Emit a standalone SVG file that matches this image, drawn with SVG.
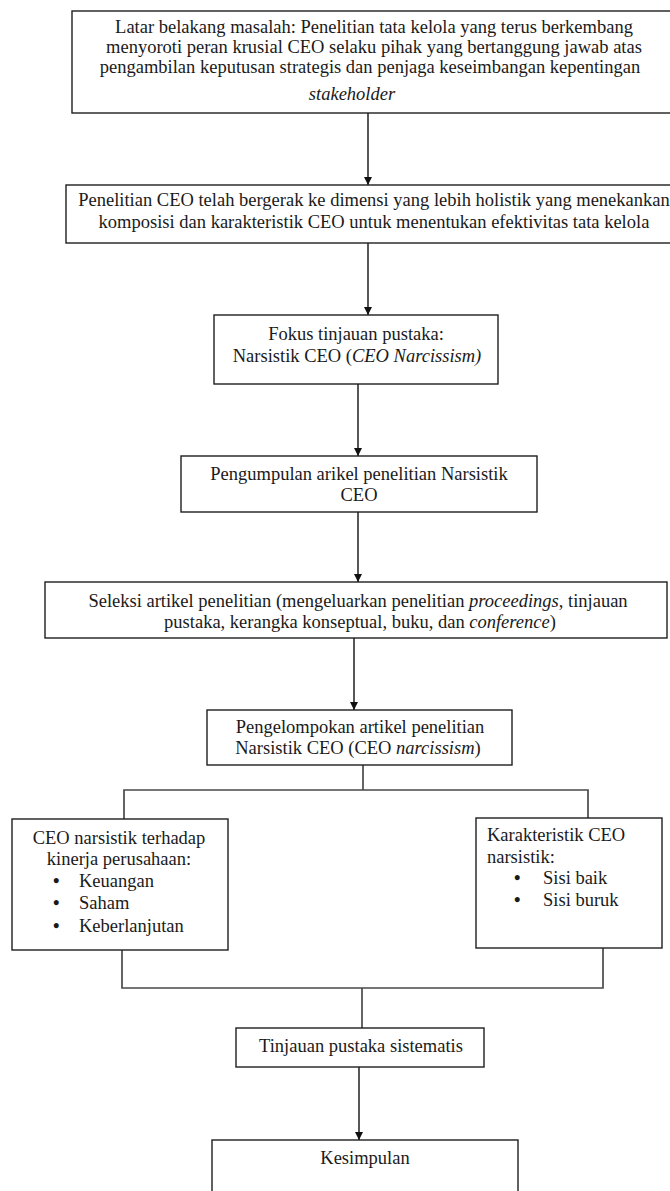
<svg xmlns="http://www.w3.org/2000/svg" width="670" height="1191" viewBox="0 0 670 1191">
<style>
.box{fill:#fff;stroke:#1f1f1f;stroke-width:1.4}
.t{font-family:"Liberation Serif","Times New Roman",serif;font-size:18.5px;fill:#1a1a1a}
.b{font-family:"Liberation Serif","Times New Roman",serif;font-size:18.5px;font-weight:bold;fill:#1a1a1a}
.c{text-anchor:middle}
.i{font-style:italic}
.arr{stroke:#111;stroke-width:1.4;fill:none;marker-end:url(#ah)}
.tree{stroke:#4a4a4a;stroke-width:1.7;fill:none}
</style>
<defs>
<marker id="ah" markerUnits="userSpaceOnUse" markerWidth="8" markerHeight="9" refX="8" refY="4" orient="auto">
<path d="M0,0 L8,4 L0,8 z" fill="#111"/>
</marker>
</defs>
<rect width="670" height="1191" fill="#fff"/>
<g id="connectors">
<line class="arr" x1="368" y1="113" x2="368" y2="185"/>
<line class="arr" x1="368" y1="243" x2="368" y2="315"/>
<line class="arr" x1="358" y1="384" x2="358" y2="456"/>
<line class="arr" x1="358" y1="512" x2="358" y2="582"/>
<line class="arr" x1="354" y1="638" x2="354" y2="710"/>
<polyline class="tree" points="363,765 363,790"/>
<polyline class="tree" points="124,819 124,790 588,790 588,818"/>
<polyline class="tree" points="122,950 122,988 603,988 603,948"/>
<polyline class="tree" points="362,988 362,1028"/>
<line class="arr" x1="359" y1="1067" x2="359" y2="1140"/>
</g>
<g id="n1">
<rect class="box" x="72" y="11" width="610" height="102"/>
<text class="t c" x="374" y="33">Latar belakang masalah: Penelitian tata kelola yang terus berkembang</text>
<text class="t c" x="374" y="53">menyoroti peran krusial CEO selaku pihak yang bertanggung jawab atas</text>
<text class="t c" x="370" y="73">pengambilan keputusan strategis dan penjaga keseimbangan kepentingan</text>
<text class="t c i" x="352" y="100">stakeholder</text>
</g>
<g id="n2">
<rect class="box" x="66" y="185" width="620" height="58"/>
<text class="t c" x="374" y="206">Penelitian CEO telah bergerak ke dimensi yang lebih holistik yang menekankan</text>
<text class="t c" x="374" y="228">komposisi dan karakteristik CEO untuk menentukan efektivitas tata kelola</text>
</g>
<g id="n3">
<rect class="box" x="214" y="315" width="284" height="69"/>
<text class="t c" x="356" y="340">Fokus tinjauan pustaka:</text>
<text class="t c" x="357" y="362">Narsistik CEO (<tspan class="i">CEO Narcissism)</tspan></text>
</g>
<g id="n4">
<rect class="box" x="181" y="456" width="356" height="56"/>
<text class="t c" x="359" y="480">Pengumpulan arikel penelitian Narsistik</text>
<text class="t c" x="359" y="501">CEO</text>
</g>
<g id="n5">
<rect class="box" x="45" y="582" width="622" height="56"/>
<text class="t c" x="358" y="607">Seleksi artikel penelitian (mengeluarkan penelitian <tspan class="i">proceedings</tspan>, tinjauan</text>
<text class="t c" x="360" y="628">pustaka, kerangka konseptual, buku, dan <tspan class="i">conference</tspan>)</text>
</g>
<g id="n6">
<rect class="box" x="207" y="710" width="305" height="55"/>
<text class="t c" x="360" y="733">Pengelompokan artikel penelitian</text>
<text class="t c" x="358" y="754">Narsistik CEO (CEO <tspan class="i">narcissism</tspan>)</text>
</g>
<g id="n7">
<rect class="box" x="12" y="819" width="216" height="131"/>
<text class="t c" x="119" y="844">CEO narsistik terhadap</text>
<text class="t c" x="119" y="865">kinerja perusahaan:</text>
<text class="b" x="53" y="887">•</text><text class="t" x="79" y="887">Keuangan</text>
<text class="b" x="53" y="909">•</text><text class="t" x="79" y="909">Saham</text>
<text class="b" x="53" y="932">•</text><text class="t" x="79" y="932">Keberlanjutan</text>
</g>
<g id="n8">
<rect class="box" x="476" y="818" width="186" height="130"/>
<text class="t" x="487" y="841">Karakteristik CEO</text>
<text class="t" x="487" y="863">narsistik:</text>
<text class="b" x="514" y="884">•</text><text class="t" x="543" y="884">Sisi baik</text>
<text class="b" x="514" y="906">•</text><text class="t" x="543" y="906">Sisi buruk</text>
</g>
<g id="n9">
<rect class="box" x="236" y="1028" width="248" height="39"/>
<text class="t c" x="361" y="1052">Tinjauan pustaka sistematis</text>
</g>
<g id="n10">
<rect class="box" x="212" y="1140" width="306" height="70"/>
<text class="t c" x="365" y="1164">Kesimpulan</text>
</g>
</svg>
